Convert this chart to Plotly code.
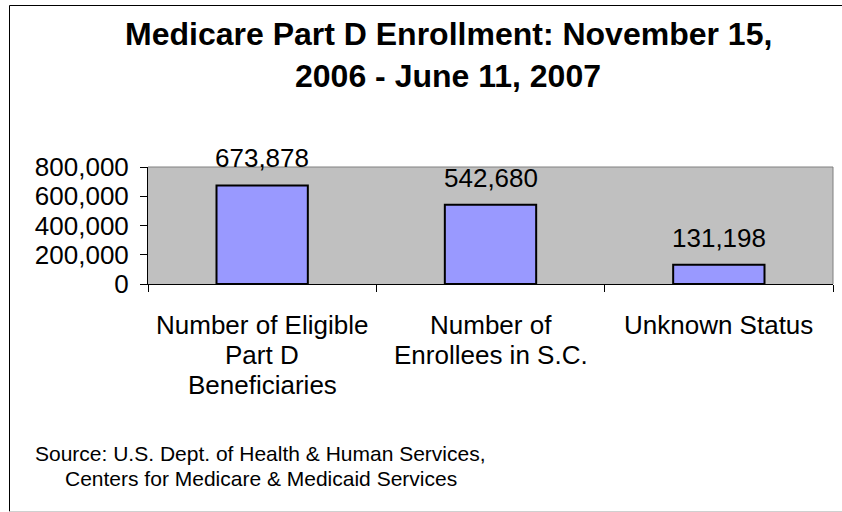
import plotly.graph_objects as go

# Chart data
categories = ["Number of Eligible<br>Part D<br>Beneficiaries",
              "Number of<br>Enrollees in S.C.",
              "Unknown Status"]
enrollment = [673878, 542680, 131198]
y_ticks = [0, 200000, 400000, 600000, 800000]
title_lines = ["Medicare Part D Enrollment: November 15,", "2006 - June 11, 2007"]
source_lines = ["Source: U.S. Dept. of Health & Human Services,",
                "Centers for Medicare & Medicaid Services"]

W, H = 842, 512
L, R, T, B = 148, 9, 167, 228
PW, PH = W - L - R, H - T - B
FONT = "Arial, Liberation Sans, sans-serif"


def px_x(x):
    return (x - L) / PW


def px_y(y):
    return (H - B - y) / PH


fig = go.Figure()
fig.add_trace(go.Bar(
    x=list(range(len(categories))),
    y=enrollment,
    marker=dict(color="#9999FF", line=dict(color="#000000", width=2)),
    width=0.4,
    hoverinfo="skip",
))

annotations = []
# value labels above bars
for i, v in enumerate(enrollment):
    annotations.append(dict(
        x=i, y=v, xref="x", yref="y", text=f"{v:,}", showarrow=False,
        xanchor="center", yanchor="middle", yshift=27,
        font=dict(family=FONT, size=26, color="#000"),
    ))
# category labels, one annotation per wrapped line
for i, cat in enumerate(categories):
    for k, line in enumerate(cat.split("<br>")):
        annotations.append(dict(
            x=i, y=0, xref="x", yref="paper", text=line, showarrow=False,
            xanchor="center", yanchor="middle", yshift=-(41 + 30 * k),
            font=dict(family=FONT, size=26, color="#000"),
        ))
# title
for k, line in enumerate(title_lines):
    annotations.append(dict(
        x=px_x(448), y=px_y([34, 76][k]), xref="paper", yref="paper",
        text=f"<b>{line}</b>", showarrow=False, xanchor="center", yanchor="middle",
        font=dict(family=FONT, size=32, color="#000"),
    ))
# source note
for k, line in enumerate(source_lines):
    annotations.append(dict(
        x=px_x(260.5), y=px_y([453, 478][k]), xref="paper", yref="paper",
        text=line, showarrow=False, xanchor="center", yanchor="middle",
        font=dict(family=FONT, size=21, color="#000"),
    ))

shapes = [
    # outer chart frame
    dict(type="line", xref="paper", yref="paper", x0=px_x(9.5), x1=px_x(9.5),
         y0=px_y(5.5), y1=px_y(511.5), line=dict(color="#000", width=1)),
    dict(type="line", xref="paper", yref="paper", x0=px_x(9.5), x1=px_x(850),
         y0=px_y(5.5), y1=px_y(5.5), line=dict(color="#000", width=1)),
    dict(type="line", xref="paper", yref="paper", x0=px_x(9.5), x1=px_x(850),
         y0=px_y(511.5), y1=px_y(511.5), line=dict(color="#d0d0d0", width=1)),
    # plot-area border (top and right)
    dict(type="line", xref="paper", yref="paper", x0=0, x1=1, y0=1, y1=1,
         line=dict(color="#808080", width=1)),
    dict(type="line", xref="paper", yref="paper", x0=1, x1=1, y0=0, y1=1,
         line=dict(color="#808080", width=1)),
]

fig.update_layout(
    width=W, height=H,
    margin=dict(l=L, r=R, t=T, b=B, pad=0),
    paper_bgcolor="#FFFFFF",
    plot_bgcolor="#C0C0C0",
    showlegend=False,
    annotations=annotations,
    shapes=shapes,
    font=dict(family=FONT, color="#000"),
)
fig.update_xaxes(
    type="linear", range=[-0.5, len(categories) - 0.5],
    tickvals=[-0.5 + i for i in range(len(categories) + 1)],
    showticklabels=False, ticks="outside", ticklen=7, tickcolor="#000",
    showline=True, linecolor="#000", linewidth=1, showgrid=False, zeroline=False,
)
fig.update_yaxes(
    range=[0, 800000], tickvals=y_ticks,
    ticktext=[f"{t:,}" for t in y_ticks],
    ticks="outside", ticklen=7, tickcolor="#000", ticklabelstandoff=6,
    tickfont=dict(family=FONT, size=26, color="#000"),
    showline=True, linecolor="#000", linewidth=1, showgrid=False, zeroline=False,
)

fig.write_html("out.html")
